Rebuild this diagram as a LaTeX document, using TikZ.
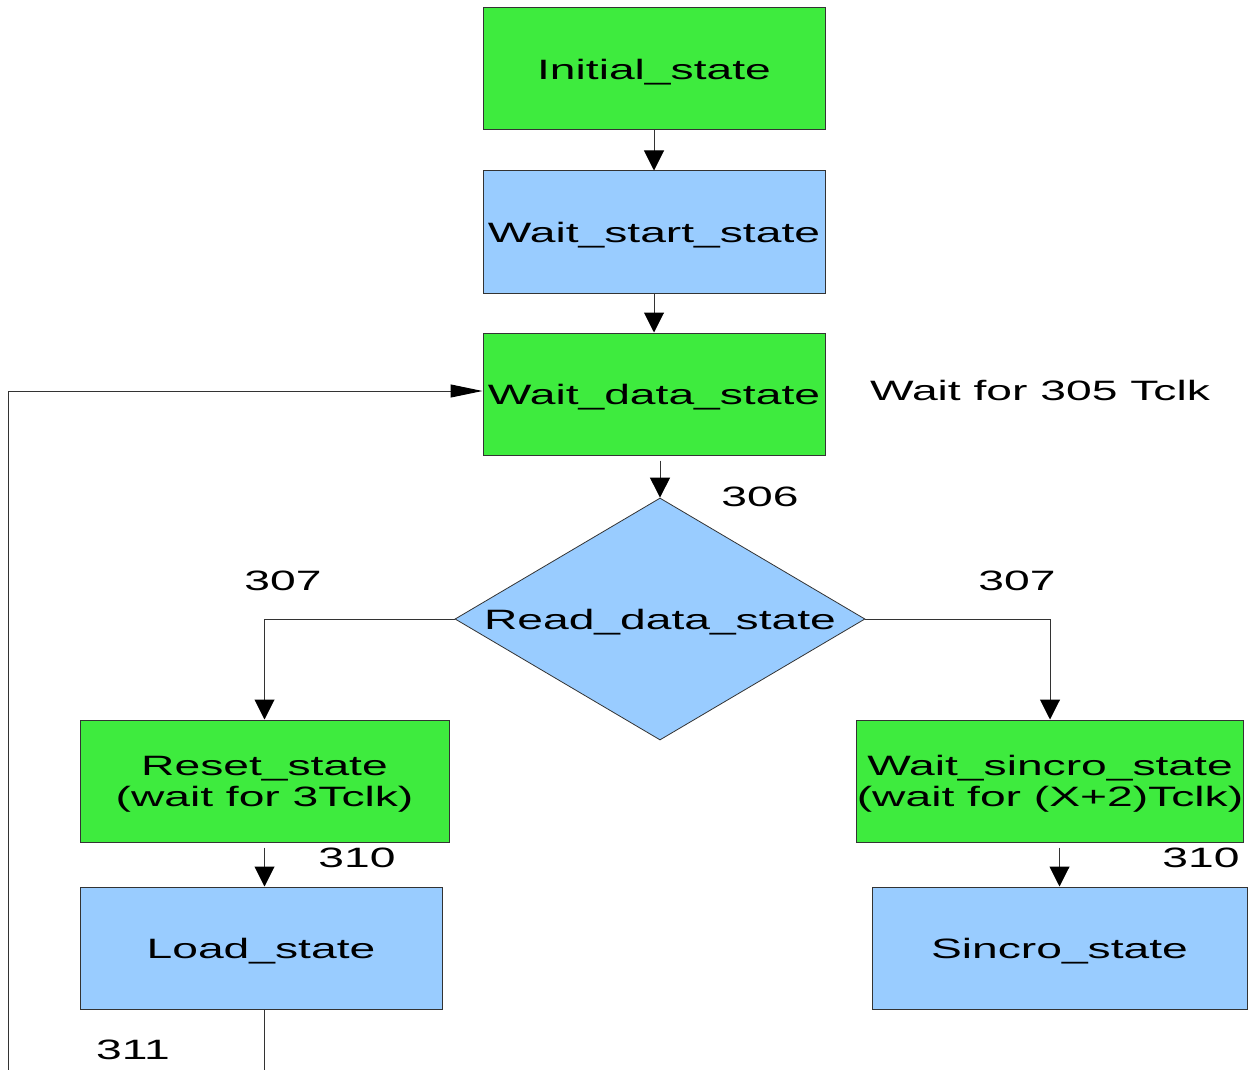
\documentclass[tikz,border=0pt]{standalone}
\usepackage{fontspec}
\setmainfont[FakeStretch=1.65]{Liberation Sans}
\usetikzlibrary{shapes.geometric,arrows.meta}
\definecolor{stgreen}{RGB}{62,235,62}
\definecolor{stblue}{RGB}{153,204,255}
\definecolor{edge}{RGB}{51,51,51}
\begin{document}
\begin{tikzpicture}[x=1pt,y=-1pt,
  every node/.style={font=\fontsize{28}{31}\selectfont},
  box/.style={draw=edge,line width=1pt,rectangle,inner sep=0pt,align=center,text depth=0pt},
  greenbox/.style={box,fill=stgreen},
  bluebox/.style={box,fill=stblue},
  decision/.style={draw=edge,line width=0.8pt,diamond,fill=stblue,inner sep=0pt,
    minimum width=410pt,minimum height=242pt},
  txt/.style={inner sep=0pt,align=center},
  wire/.style={draw=edge,line width=1pt},
  arr/.style={wire,-{Triangle[width=20pt,length=20pt,black]}},
  longarr/.style={wire,-{Triangle[width=13pt,length=32pt,black]}}]
\useasboundingbox (0,0) rectangle (1248,1070);

% states
\node[greenbox,minimum width=342pt,minimum height=122pt] (init) at (654,69) {Initial\_state};
\node[bluebox,minimum width=342pt,minimum height=122pt] (wstart) at (654,232) {Wait\_start\_state};
\node[greenbox,minimum width=342pt,minimum height=122pt] (wdata) at (654,394) {Wait\_data\_state};
\node[decision] (read) at (660,619) {};
\node[txt,text depth=0pt] (readtxt) at (read.center) {Read\_data\_state};
\node[greenbox,minimum width=369pt,minimum height=122pt] (reset) at (264.5,781) {Reset\_state\\(wait for 3Tclk)};
\node[bluebox,minimum width=362pt,minimum height=122pt] (load) at (261,948) {Load\_state};
\node[greenbox,minimum width=384pt,minimum height=122pt] (wsync) at (1050,781) {Wait\_sincro\_state\\(wait for (X+2)Tclk)};
\node[bluebox,minimum width=375pt,minimum height=122pt] (sincro) at (1059.5,948) {Sincro\_state};

% annotations
\node[txt] (l305) at (1040,390) {Wait for 305 Tclk};
\node[txt] (l306) at (760,497) {306};
\node[txt] (l307a) at (283,581) {307};
\node[txt] (l307b) at (1017,581) {307};
\node[txt] (l310a) at (357,858) {310};
\node[txt] (l310b) at (1201,858) {310};
\node[txt] (l311) at (133,1050) {311};

% transitions
\draw[arr] (init.south) -- (wstart.north);
\draw[arr] (wstart.south) -- (wdata.north);
\draw[arr] ([yshift=-5pt]wdata.south -| read.north) -- (read.north);
\draw[arr] (read.west) -| (reset.north);
\draw[arr] (read.east) -| (wsync.north);
\draw[arr] ([yshift=-5pt]reset.south) -- (reset.south |- load.north);
\draw[arr] ([yshift=-5pt]wsync.south -| sincro.north) -- (sincro.north);
\coordinate (loadout) at (264,1070);
\draw[wire] (load.south -| loadout) -- (loadout);
\coordinate (loopin) at (8,1070);
\draw[longarr] (loopin) |- ([yshift=3pt]wdata.west);
\end{tikzpicture}
\end{document}
